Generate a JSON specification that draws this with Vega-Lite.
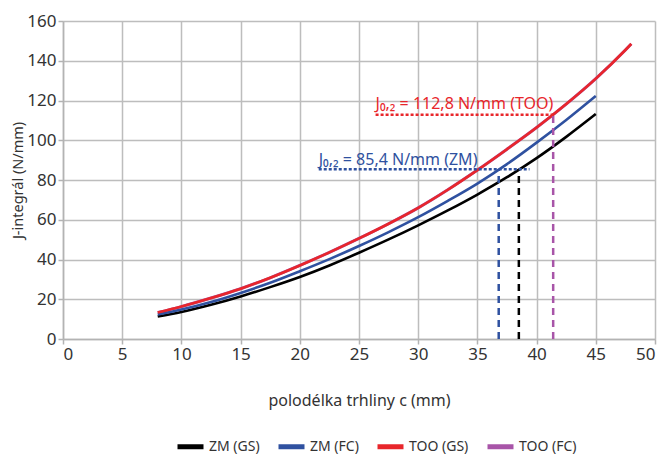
{
  "$schema": "https://vega.github.io/schema/vega-lite/v6.json",
  "width": 592,
  "height": 318,
  "autosize": "none",
  "padding": {"left": 63, "top": 21, "right": 7, "bottom": 119},
  "background": "white",
  "config": {
    "font": "Noto Sans",
    "view": {"stroke": null},
    "axis": {
      "domainColor": "#b3b3b3",
      "domainWidth": 1.5,
      "tickColor": "#b3b3b3",
      "tickWidth": 1.5,
      "tickSize": 5,
      "gridColor": "#bdbdbd",
      "gridWidth": 1.5,
      "labelColor": "#333333",
      "labelFontSize": 17,
      "labelPadding": 2,
      "labelOverlap": false,
      "labelBound": false,
      "titleColor": "#333333",
      "titleFontWeight": "normal"
    },
    "axisX": {"values": [0, 5, 10, 15, 20, 25, 30, 35, 40, 45, 50], "titleFontSize": 16, "titleY": 61, "titleBaseline": "middle"},
    "axisY": {"values": [0, 20, 40, 60, 80, 100, 120, 140, 160], "titleFontSize": 14.5, "titlePadding": 1},
    "legend": {
      "labelColor": "#333333",
      "labelFontSize": 14
    }
  },
  "datasets": {
    "curves": [
      {"series": "ZM (GS)", "c": 8, "j": 11.3},
      {"series": "ZM (GS)", "c": 10, "j": 13.6},
      {"series": "ZM (GS)", "c": 12.5, "j": 17.2},
      {"series": "ZM (GS)", "c": 15, "j": 21.4},
      {"series": "ZM (GS)", "c": 17.5, "j": 26.1},
      {"series": "ZM (GS)", "c": 20, "j": 31.2},
      {"series": "ZM (GS)", "c": 22.5, "j": 37.0},
      {"series": "ZM (GS)", "c": 25, "j": 43.4},
      {"series": "ZM (GS)", "c": 27.5, "j": 50.1},
      {"series": "ZM (GS)", "c": 30, "j": 57.2},
      {"series": "ZM (GS)", "c": 32.5, "j": 64.7},
      {"series": "ZM (GS)", "c": 35, "j": 72.7},
      {"series": "ZM (GS)", "c": 37.5, "j": 81.4},
      {"series": "ZM (GS)", "c": 40, "j": 91.0},
      {"series": "ZM (GS)", "c": 42.5, "j": 101.7},
      {"series": "ZM (GS)", "c": 45, "j": 113.2},
      {"series": "ZM (FC)", "c": 8, "j": 12.3},
      {"series": "ZM (FC)", "c": 10, "j": 14.8},
      {"series": "ZM (FC)", "c": 12.5, "j": 18.6},
      {"series": "ZM (FC)", "c": 15, "j": 23.2},
      {"series": "ZM (FC)", "c": 17.5, "j": 28.3},
      {"series": "ZM (FC)", "c": 20, "j": 34.1},
      {"series": "ZM (FC)", "c": 22.5, "j": 40.2},
      {"series": "ZM (FC)", "c": 25, "j": 46.8},
      {"series": "ZM (FC)", "c": 27.5, "j": 53.8},
      {"series": "ZM (FC)", "c": 30, "j": 61.3},
      {"series": "ZM (FC)", "c": 32.5, "j": 69.5},
      {"series": "ZM (FC)", "c": 35, "j": 78.2},
      {"series": "ZM (FC)", "c": 37.5, "j": 88.0},
      {"series": "ZM (FC)", "c": 40, "j": 98.8},
      {"series": "ZM (FC)", "c": 42.5, "j": 110.2},
      {"series": "ZM (FC)", "c": 45, "j": 122.3},
      {"series": "TOO (GS)", "c": 8, "j": 13.3},
      {"series": "TOO (GS)", "c": 10, "j": 16.3},
      {"series": "TOO (GS)", "c": 12.5, "j": 20.6},
      {"series": "TOO (GS)", "c": 15, "j": 25.3},
      {"series": "TOO (GS)", "c": 17.5, "j": 30.8},
      {"series": "TOO (GS)", "c": 20, "j": 37.0},
      {"series": "TOO (GS)", "c": 22.5, "j": 43.6},
      {"series": "TOO (GS)", "c": 25, "j": 50.6},
      {"series": "TOO (GS)", "c": 27.5, "j": 58.0},
      {"series": "TOO (GS)", "c": 30, "j": 66.0},
      {"series": "TOO (GS)", "c": 32.5, "j": 75.1},
      {"series": "TOO (GS)", "c": 35, "j": 85.0},
      {"series": "TOO (GS)", "c": 37.5, "j": 95.5},
      {"series": "TOO (GS)", "c": 40, "j": 106.4},
      {"series": "TOO (GS)", "c": 42.5, "j": 118.2},
      {"series": "TOO (GS)", "c": 45, "j": 131.0},
      {"series": "TOO (GS)", "c": 47.5, "j": 145.4},
      {"series": "TOO (GS)", "c": 48, "j": 148.5},
      {"series": "TOO (FC)", "c": 8, "j": 13.3},
      {"series": "TOO (FC)", "c": 10, "j": 16.3},
      {"series": "TOO (FC)", "c": 12.5, "j": 20.6},
      {"series": "TOO (FC)", "c": 15, "j": 25.3},
      {"series": "TOO (FC)", "c": 17.5, "j": 30.8},
      {"series": "TOO (FC)", "c": 20, "j": 37.0},
      {"series": "TOO (FC)", "c": 22.5, "j": 43.6},
      {"series": "TOO (FC)", "c": 25, "j": 50.6},
      {"series": "TOO (FC)", "c": 27.5, "j": 58.0},
      {"series": "TOO (FC)", "c": 30, "j": 66.0},
      {"series": "TOO (FC)", "c": 32.5, "j": 75.1},
      {"series": "TOO (FC)", "c": 35, "j": 85.0},
      {"series": "TOO (FC)", "c": 37.5, "j": 95.5},
      {"series": "TOO (FC)", "c": 40, "j": 106.4},
      {"series": "TOO (FC)", "c": 42.5, "j": 118.2},
      {"series": "TOO (FC)", "c": 45, "j": 131.0},
      {"series": "TOO (FC)", "c": 47.5, "j": 145.4},
      {"series": "TOO (FC)", "c": 48, "j": 148.5}
    ],
    "vlines": [
      {"series": "ZM (FC)", "c": 36.8, "j0": 0, "j1": 85.4},
      {"series": "ZM (GS)", "c": 38.5, "j0": 0, "j1": 85.4},
      {"series": "TOO (FC)", "c": 41.4, "j0": 0, "j1": 112.8}
    ],
    "hlines": [
      {"series": "ZM (FC)", "c0": 21.6, "c1": 39.4, "j": 85.4},
      {"series": "TOO (GS)", "c0": 26.4, "c1": 41.4, "j": 112.8}
    ],
    "labels": [
      {"series": "ZM (FC)", "c": 21.6, "j": 90.2, "text": "J₀,₂ = 85,4 N/mm (ZM)"},
      {"series": "TOO (GS)", "c": 26.4, "j": 118.2, "text": "J₀,₂ = 112,8 N/mm (TOO)"}
    ]
  },
  "encoding": {
    "color": {
      "field": "series",
      "type": "nominal",
      "scale": {
        "domain": ["ZM (GS)", "ZM (FC)", "TOO (GS)", "TOO (FC)"],
        "range": ["#000000", "#2f51a0", "#e8262b", "#a855a8"]
      },
      "legend": {
        "title": null,
        "orient": "none",
        "direction": "horizontal",
        "legendX": 112,
        "legendY": 410,
        "symbolType": "stroke",
        "symbolStrokeWidth": 5,
        "symbolSize": 676,
        "labelOffset": 3,
        "columnPadding": 8
      }
    }
  },
  "layer": [
    {
      "data": {"name": "curves"},
      "transform": [{"filter": "datum.series === 'TOO (FC)'"}],
      "mark": {"type": "line", "strokeWidth": 3, "interpolate": "monotone"},
      "encoding": {
        "x": {
          "field": "c",
          "type": "quantitative",
          "scale": {"domain": [0, 50], "nice": false},
          "title": "polodélka trhliny c (mm)"
        },
        "y": {
          "field": "j",
          "type": "quantitative",
          "scale": {"domain": [0, 160], "nice": false},
          "title": "J-integrál (N/mm)"
        }
      }
    },
    {
      "data": {"name": "curves"},
      "transform": [{"filter": "datum.series !== 'TOO (FC)'"}],
      "mark": {"type": "line", "strokeWidth": 2.6, "interpolate": "monotone"},
      "encoding": {
        "x": {"field": "c", "type": "quantitative", "title": "polodélka trhliny c (mm)"},
        "y": {"field": "j", "type": "quantitative", "title": "J-integrál (N/mm)"}
      }
    },
    {
      "data": {"name": "vlines"},
      "mark": {"type": "rule", "strokeWidth": 2.5, "strokeDash": [7, 5]},
      "encoding": {
        "x": {"field": "c", "type": "quantitative", "title": "polodélka trhliny c (mm)"},
        "y": {"field": "j0", "type": "quantitative", "title": "J-integrál (N/mm)"},
        "y2": {"field": "j1"}
      }
    },
    {
      "data": {"name": "hlines"},
      "mark": {"type": "rule", "strokeWidth": 2.5, "strokeDash": [3, 2]},
      "encoding": {
        "x": {"field": "c0", "type": "quantitative", "title": "polodélka trhliny c (mm)"},
        "x2": {"field": "c1"},
        "y": {"field": "j", "type": "quantitative", "title": "J-integrál (N/mm)"}
      }
    },
    {
      "data": {"name": "labels"},
      "mark": {"type": "text", "align": "left", "baseline": "middle", "fontSize": 16},
      "encoding": {
        "x": {"field": "c", "type": "quantitative", "title": "polodélka trhliny c (mm)"},
        "y": {"field": "j", "type": "quantitative", "title": "J-integrál (N/mm)"},
        "text": {"field": "text"}
      }
    }
  ]
}
